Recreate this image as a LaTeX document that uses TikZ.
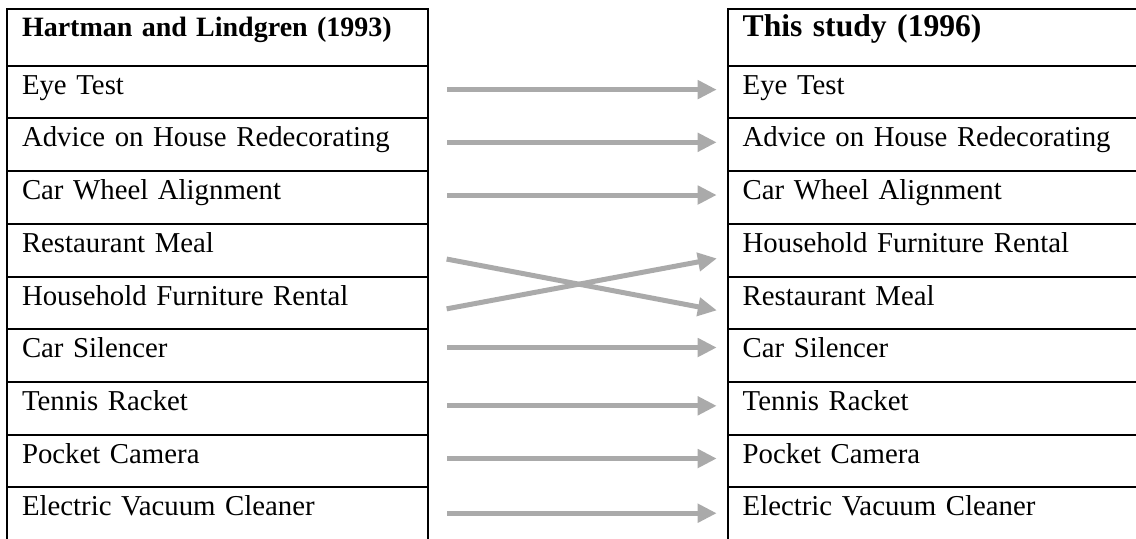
\documentclass[tikz,border=0pt]{standalone}
\usepackage{fontspec}
\setmainfont{Liberation Serif}
\usepackage{xcolor}
\usepackage{tikz}
\usetikzlibrary{arrows.meta, positioning}

\definecolor{arrowgray}{RGB}{170,170,170}

\begin{document}
\begin{tikzpicture}[x=0.5pt, y=-0.5pt,
        cell/.style={rectangle, draw, line width=1pt, outer sep=0pt, inner xsep=7.5pt, inner ysep=0pt,
            align=left, text height=9pt, text depth=6.85pt, minimum height=26.35pt,
            font=\fontsize{14.4}{17}\selectfont},
        lcell/.style={cell, text width=195.25pt},
        rcell/.style={cell, text width=190pt},
        head/.style={text depth=9.8pt, minimum height=28.2pt, font=\bfseries\fontsize{14}{17}\selectfont},
        arrow/.style={-{Triangle[length=9.5pt, width=9pt]}, line width=2.5pt, draw=arrowgray,
            shorten <=9.75pt, shorten >=5.5pt}
    ]
        \useasboundingbox (0,0) rectangle (1136,538);
        % left column
        \node[lcell, head, anchor=north west] (L0) at (7,9.3) {Hartman and Lindgren (1993)};
        \node[lcell, below=0pt of L0] (L1) {Eye Test};
        \node[lcell, below=0pt of L1] (L2) {Advice on House Redecorating};
        \node[lcell, below=0pt of L2] (L3) {Car Wheel Alignment};
        \node[lcell, below=0pt of L3] (L4) {Restaurant Meal};
        \node[lcell, below=0pt of L4] (L5) {Household Furniture Rental};
        \node[lcell, below=0pt of L5] (L6) {Car Silencer};
        \node[lcell, below=0pt of L6] (L7) {Tennis Racket};
        \node[lcell, below=0pt of L7] (L8) {Pocket Camera};
        \node[lcell, below=0pt of L8] (L9) {Electric Vacuum Cleaner};
        % right column
        \node[rcell, head, font=\bfseries\fontsize{15.8}{19}\selectfont, anchor=north west] (R0) at (727.7,9.3) {This study (1996)};
        \node[rcell, below=0pt of R0] (R1) {Eye Test};
        \node[rcell, below=0pt of R1] (R2) {Advice on House Redecorating};
        \node[rcell, below=0pt of R2] (R3) {Car Wheel Alignment};
        \node[rcell, below=0pt of R3] (R4) {Household Furniture Rental};
        \node[rcell, below=0pt of R4] (R5) {Restaurant Meal};
        \node[rcell, below=0pt of R5] (R6) {Car Silencer};
        \node[rcell, below=0pt of R6] (R7) {Tennis Racket};
        \node[rcell, below=0pt of R7] (R8) {Pocket Camera};
        \node[rcell, below=0pt of R8] (R9) {Electric Vacuum Cleaner};
        % arrows
        \draw[arrow] (L1.mid east) -- (R1.mid west);
        \draw[arrow] (L2.mid east) -- (R2.mid west);
        \draw[arrow] (L3.mid east) -- (R3.mid west);
        \draw[arrow] ([yshift=-3.85pt]L4.mid east) -- ([yshift=-6pt]R5.mid west);
        \draw[arrow] ([yshift=-6pt]L5.mid east) -- ([yshift=-4.35pt]R4.mid west);
        \draw[arrow] ([yshift=2.8pt]L6.mid east) -- ([yshift=2.8pt]R6.mid west);
        \draw[arrow] (L7.mid east) -- (R7.mid west);
        \draw[arrow] (L8.mid east) -- (R8.mid west);
        \draw[arrow] ([yshift=-1pt]L9.mid east) -- ([yshift=-1pt]R9.mid west);
\end{tikzpicture}
\end{document}
